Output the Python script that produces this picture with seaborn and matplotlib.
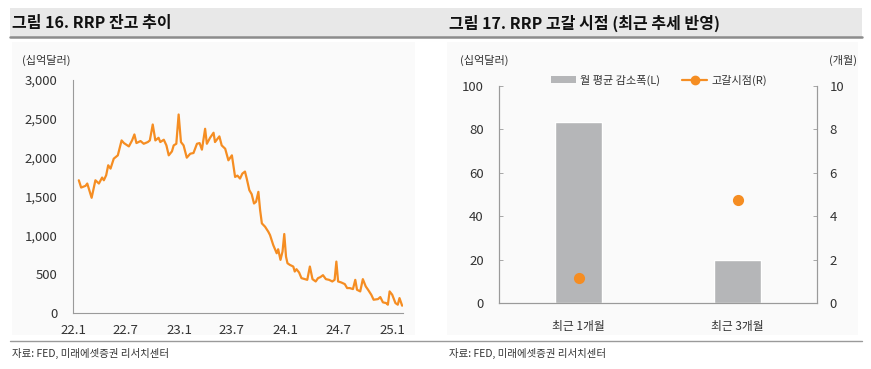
import pandas as pd
import seaborn as sns
import matplotlib.pyplot as plt
from matplotlib.patches import Rectangle, Patch
from matplotlib.lines import Line2D
from matplotlib.ticker import FuncFormatter

# RRP balance (billion USD)
rrp_dates = ['2022-01-21', '2022-01-29', '2022-02-13', '2022-02-19', '2022-03-06', '2022-03-19',
             '2022-03-31', '2022-04-11', '2022-04-17', '2022-04-25', '2022-05-02', '2022-05-10',
             '2022-05-21', '2022-06-04', '2022-06-17', '2022-06-25', '2022-07-12', '2022-07-23',
             '2022-07-31', '2022-08-07', '2022-08-21', '2022-09-01', '2022-09-15', '2022-09-22',
             '2022-10-02', '2022-10-11', '2022-10-22', '2022-10-28', '2022-11-09', '2022-11-18',
             '2022-11-26', '2022-12-07', '2022-12-13', '2022-12-22', '2022-12-30', '2023-01-07',
             '2023-01-16', '2023-01-27', '2023-02-08', '2023-02-19', '2023-03-03', '2023-03-12',
             '2023-03-20', '2023-03-31', '2023-04-06', '2023-04-17', '2023-04-29', '2023-05-04',
             '2023-05-19', '2023-05-27', '2023-06-08', '2023-06-19', '2023-07-01', '2023-07-12',
             '2023-07-20', '2023-07-29', '2023-08-06', '2023-08-15', '2023-08-21', '2023-08-30',
             '2023-09-07', '2023-09-15', '2023-09-22', '2023-09-30', '2023-10-06', '2023-10-12',
             '2023-10-23', '2023-11-03', '2023-11-09', '2023-11-20', '2023-12-02', '2023-12-07',
             '2023-12-15', '2023-12-22', '2023-12-28', '2024-01-03', '2024-01-08', '2024-01-16',
             '2024-01-28', '2024-02-02', '2024-02-08', '2024-02-17', '2024-02-25', '2024-03-08',
             '2024-03-16', '2024-03-25', '2024-04-03', '2024-04-14', '2024-04-22', '2024-04-30',
             '2024-05-09', '2024-05-19', '2024-05-30', '2024-06-10', '2024-06-18', '2024-06-24',
             '2024-06-30', '2024-07-11', '2024-07-23', '2024-07-31', '2024-08-09', '2024-08-20',
             '2024-08-28', '2024-09-03', '2024-09-14', '2024-09-23', '2024-10-03', '2024-10-11',
             '2024-10-22', '2024-10-30', '2024-11-14', '2024-11-22', '2024-12-01', '2024-12-12',
             '2024-12-18', '2024-12-24', '2025-01-02', '2025-01-13', '2025-01-21', '2025-01-27',
             '2025-02-05']
rrp_values = [1709, 1615, 1637, 1667, 1483, 1709, 1667, 1744, 1709, 1774, 1902, 1859,
              1987, 2030, 2222, 2188, 2145, 2222, 2299, 2188, 2214, 2179, 2201, 2222,
              2427, 2222, 2256, 2201, 2231, 2158, 2030, 2081, 2158, 2179, 2556, 2201,
              2158, 2000, 2051, 2060, 2179, 2188, 2103, 2372, 2179, 2256, 2321, 2201,
              2274, 2158, 2115, 1966, 2030, 1752, 1769, 1731, 1795, 1821, 1731, 1581,
              1530, 1410, 1432, 1560, 1325, 1154, 1111, 1047, 1004, 876, 769, 821,
              684, 791, 1017, 726, 641, 620, 598, 534, 564, 521, 449, 436,
              427, 598, 436, 406, 449, 462, 487, 436, 427, 406, 427, 662,
              406, 393, 372, 321, 321, 308, 427, 299, 278, 436, 342, 299,
              235, 171, 179, 205, 137, 128, 107, 278, 235, 128, 107, 192,
              94]
x_ticks = ['2022-01-01', '2022-07-01', '2023-01-01', '2023-07-01', '2024-01-01', '2024-07-01', '2025-01-01']
x_tick_labels = ['22.1', '22.7', '23.1', '23.7', '24.1', '24.7', '25.1']

# Depletion timing chart
periods = ['최근 1개월', '최근 3개월']
monthly_decline = [83.3, 19.8]   # billion USD (left axis)
depletion_months = [1.13, 4.74]  # months (right axis)

ORANGE = '#f58d22'
GRAY_BAR = '#b5b6b8'
SPINE = '#9a9a9a'
TXT = '#333333'

sns.set_style('white')
plt.rcParams['font.family'] = ['Noto Sans CJK KR', 'DejaVu Sans']
plt.rcParams['axes.unicode_minus'] = False

fig = plt.figure(figsize=(8.71, 3.69), dpi=100)
W, H = 871, 369

def px_rect(x0, y0, x1, y1, **kw):
    fig.patches.append(Rectangle((x0 / W, 1 - y1 / H), (x1 - x0) / W, (y1 - y0) / H,
                                 transform=fig.transFigure, zorder=-5, **kw))

# panel backgrounds
px_rect(12, 42, 415, 335, facecolor='#fafafa', edgecolor='none')
px_rect(447, 42, 858, 335, facecolor='#fafafa', edgecolor='none')
# title bands and rules
px_rect(10, 8, 862, 37, facecolor='#e8e8e8', edgecolor='none')
fig.add_artist(Line2D([10 / W, 862 / W], [1 - 37 / H] * 2, color='#8c8c8c', lw=1.8))
fig.add_artist(Line2D([10 / W, 862 / W], [1 - 341 / H] * 2, color='#9a9a9a', lw=1.0))

fig.text(12 / W, 1 - 23 / H, '그림 16. RRP 잔고 추이', fontsize=11.5, fontweight='bold',
         va='center', ha='left', color='#111111')
fig.text(449 / W, 1 - 23 / H, '그림 17. RRP 고갈 시점 (최근 추세 반영)', fontsize=11.5,
         fontweight='bold', va='center', ha='left', color='#111111')
fig.text(12 / W, 1 - 353 / H, '자료: FED, 미래에셋증권 리서치센터', fontsize=7.5,
         va='center', ha='left', color=TXT)
fig.text(449 / W, 1 - 353 / H, '자료: FED, 미래에셋증권 리서치센터', fontsize=7.5,
         va='center', ha='left', color=TXT)

# ---- left: RRP balance ----
df = pd.DataFrame({'date': pd.to_datetime(rrp_dates), 'rrp': rrp_values})
ax1 = fig.add_axes([73 / W, 1 - 313 / H, 330 / W, 233 / H])
ax1.set_facecolor('none')
sns.lineplot(data=df, x='date', y='rrp', ax=ax1, color=ORANGE, linewidth=1.6)
ax1.set_xlim(pd.Timestamp('2022-01-01'), pd.Timestamp('2025-02-08'))
ax1.set_ylim(0, 3000)
ax1.set_yticks(range(0, 3001, 500))
ax1.yaxis.set_major_formatter(FuncFormatter(lambda v, p: f'{int(v):,}'))
ax1.set_xticks(pd.to_datetime(x_ticks))
ax1.set_xticklabels(x_tick_labels)
ax1.set_xlabel('')
ax1.set_ylabel('')
for s in ['top', 'right']:
    ax1.spines[s].set_visible(False)
for s in ['left', 'bottom']:
    ax1.spines[s].set_color(SPINE)
    ax1.spines[s].set_linewidth(0.8)
ax1.tick_params(axis='both', direction='in', length=3, width=0.6, color=SPINE,
                labelsize=9.5, labelcolor=TXT)
ax1.tick_params(axis='y', pad=11)
ax1.tick_params(axis='x', pad=8)
fig.text(22 / W, 1 - 60 / H, '(십억달러)', fontsize=8, va='center', ha='left', color=TXT)

# ---- right: depletion timing ----
ax2 = fig.add_axes([499 / W, 1 - 303 / H, 318 / W, 217 / H])
ax2.set_facecolor('none')
sns.barplot(x=periods, y=monthly_decline, ax=ax2, color=GRAY_BAR, width=0.3,
            saturation=1, errorbar=None)
ax3 = ax2.twinx()
ax3.set_facecolor('none')
sns.pointplot(x=periods, y=depletion_months, ax=ax3, color=ORANGE, linestyle='none',
              markers='o', markersize=6, errorbar=None)
for ax in (ax2, ax3):
    ax.set_xlim(-0.5, 1.5)
    ax.set_xlabel('')
    ax.set_ylabel('')
ax2.set_ylim(0, 100)
ax2.set_yticks(range(0, 101, 20))
ax3.set_ylim(0, 10)
ax3.set_yticks(range(0, 11, 2))
ax2.set_xticks([0, 1])
ax2.set_xticklabels(periods)
ax2.set_xticks([0.5], minor=True)
ax2.tick_params(axis='x', which='major', length=0, pad=12, labelsize=8.5, labelcolor=TXT)
ax2.tick_params(axis='x', which='minor', direction='in', length=3, width=0.6, color=SPINE)
ax2.tick_params(axis='y', direction='in', length=3, width=0.6, color=SPINE,
                labelsize=9.5, labelcolor=TXT, pad=11)
ax3.tick_params(axis='y', direction='in', length=3, width=0.6, color=SPINE,
                labelsize=9.5, labelcolor=TXT, pad=9)
for ax in (ax2, ax3):
    ax.spines['top'].set_visible(False)
    for s in ['left', 'right', 'bottom']:
        ax.spines[s].set_color(SPINE)
        ax.spines[s].set_linewidth(0.8)
fig.text(460 / W, 1 - 60 / H, '(십억달러)', fontsize=8, va='center', ha='left', color=TXT)
fig.text(857 / W, 1 - 60 / H, '(개월)', fontsize=8, va='center', ha='right', color=TXT)

handles = [Patch(facecolor=GRAY_BAR, edgecolor='none', label='월 평균 감소폭(L)'),
           Line2D([0], [0], color=ORANGE, lw=1.6, marker='o', markersize=6, label='고갈시점(R)')]
fig.legend(handles=handles, loc='center', bbox_to_anchor=(659 / W, 1 - 80 / H), ncol=2,
           frameon=False, fontsize=8, handlelength=2.2, handleheight=0.5,
           columnspacing=2.0, handletextpad=0.4, labelcolor=TXT)

fig.savefig('out.png', dpi=100)
